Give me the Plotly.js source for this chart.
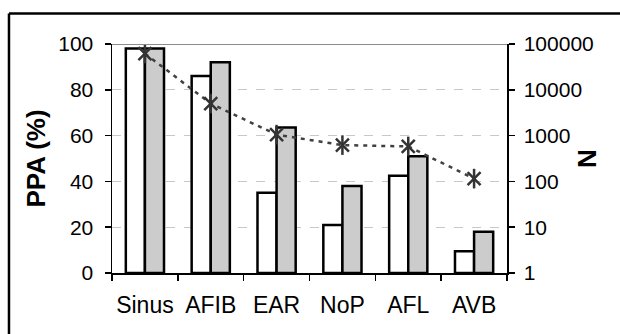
<!DOCTYPE html>
<html>
<head>
<meta charset="utf-8">
<script src="https://cdn.plot.ly/plotly-3.0.1.min.js"></script>
<style>html,body{margin:0;padding:0;background:#fff;}#chart{width:620px;height:334px;}</style>
</head>
<body>
<div id="chart"></div>
<script>
var categories = ['Sinus', 'AFIB', 'EAR', 'NoP', 'AFL', 'AVB'];
var ppaWhite = [98, 86, 35, 21, 42.5, 9.5];
var ppaGray = [98, 92, 63.5, 38, 51, 18];
var nValues = [62000, 5000, 1050, 620, 580, 115];
var nTickVals = [1, 10, 100, 1000, 10000, 100000];
var nTickText = ['1', '10', '100', '1000', '10000', '100000'];

var FONT = 'Arial, "Liberation Sans", sans-serif';

var traces = [
  {type: 'bar', x: categories, y: ppaWhite, marker: {color: '#ffffff', line: {color: '#000', width: 2.5}}, hoverinfo: 'none'},
  {type: 'bar', x: categories, y: ppaGray, marker: {color: '#cccccc', line: {color: '#000', width: 2.5}}, hoverinfo: 'none'},
  {type: 'scatter', mode: 'lines+markers', x: categories, y: nValues, yaxis: 'y2',
   line: {color: '#404040', width: 2.5, dash: '4px,5px'},
   marker: {symbol: 'x-thin-open', size: 13, color: '#333', line: {color: '#333', width: 2.5}}},
  {type: 'scatter', mode: 'markers', x: categories, y: nValues, yaxis: 'y2',
   marker: {symbol: 'line-ns-open', size: 14, color: '#333', line: {color: '#333', width: 2.5}}}
];

var layout = {
  width: 620, height: 334,
  margin: {l: 112, r: 113, t: 44, b: 61},
  paper_bgcolor: '#fff', plot_bgcolor: '#fff',
  showlegend: false,
  barmode: 'group', bargap: 0.42, bargroupgap: 0,
  font: {family: FONT, color: '#000', size: 21},
  xaxis: {
    showline: true, linecolor: '#000', linewidth: 1.5,
    ticks: 'outside', tickson: 'boundaries', ticklen: 6, tickcolor: '#000', tickwidth: 1.5,
    ticklabelstandoff: 11, tickangle: 0, automargin: false,
    tickfont: {size: 23, family: FONT}, showgrid: false, zeroline: false
  },
  yaxis: {
    range: [0, 100], tickvals: [0, 20, 40, 60, 80, 100],
    showline: true, linecolor: '#000', linewidth: 1.5,
    ticks: 'outside', ticklen: 6, tickcolor: '#000', tickwidth: 1.5,
    ticklabelstandoff: 7,
    showgrid: true, gridcolor: '#c8c8c8', gridwidth: 1, griddash: 'dash',
    zeroline: false, tickfont: {size: 21, family: FONT},
    title: {text: '<b>PPA (%)</b>', font: {size: 26, family: FONT}, standoff: 5}
  },
  yaxis2: {
    overlaying: 'y', side: 'right', type: 'log', range: [0, 5],
    tickvals: nTickVals, ticktext: nTickText,
    showline: true, linecolor: '#000', linewidth: 1.5,
    ticks: 'outside', ticklen: 6, tickcolor: '#000', tickwidth: 1.5,
    ticklabelstandoff: 5,
    showgrid: false, zeroline: false, tickfont: {size: 21, family: FONT}
  },
  annotations: [
    {text: '<b>N</b>', xref: 'paper', yref: 'paper', x: 1.2025, y: 0.502, xanchor: 'center', yanchor: 'middle',
     showarrow: false, textangle: -90, font: {size: 26, family: FONT, color: '#000'}}
  ],
  shapes: [
    {type: 'line', xref: 'paper', yref: 'y', x0: 0, x1: 1, y0: 100, y1: 100, line: {color: '#8c8c8c', width: 2}},
    {type: 'line', xref: 'paper', yref: 'paper', x0: -0.2608, x1: -0.2608, y0: 1.1332, y1: -0.4, line: {color: '#000', width: 2.5}},
    {type: 'line', xref: 'paper', yref: 'paper', x0: -0.2608, x1: 1.4, y0: 1.1332, y1: 1.1332, line: {color: '#000', width: 2.5}}
  ]
};

Plotly.newPlot('chart', traces, layout, {staticPlot: true, displayModeBar: false});
</script>
</body>
</html>
